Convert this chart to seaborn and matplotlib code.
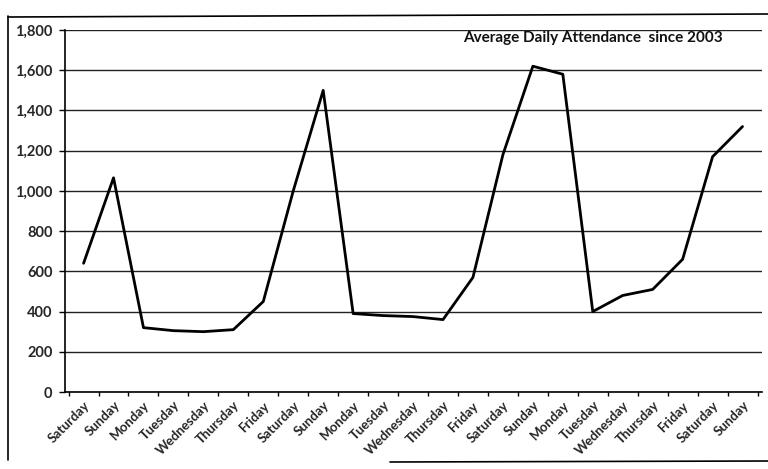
import matplotlib
matplotlib.use("Agg")
import matplotlib.pyplot as plt
from matplotlib.lines import Line2D
from matplotlib.ticker import FuncFormatter, MultipleLocator
import pandas as pd
import seaborn as sns

sns.set_theme(style="white")
plt.rcParams["font.family"] = ["Lato", "DejaVu Sans"]

days = [
    "Saturday", "Sunday", "Monday", "Tuesday", "Wednesday", "Thursday", "Friday",
    "Saturday", "Sunday", "Monday", "Tuesday", "Wednesday", "Thursday", "Friday",
    "Saturday", "Sunday", "Monday", "Tuesday", "Wednesday", "Thursday", "Friday",
    "Saturday", "Sunday",
]
attendance = [
    640, 1065, 320, 305, 300, 310, 450,
    1000, 1500, 390, 380, 375, 360, 570,
    1180, 1620, 1580, 400, 480, 510, 660,
    1170, 1320,
]
title = "Average Daily Attendance  since 2003"

data = pd.DataFrame({"pos": range(len(days)), "day": days, "attendance": attendance})

fig = plt.figure(figsize=(7.68, 4.69), dpi=100)
ax = fig.add_axes([65 / 768, 1 - 392 / 469, 697 / 768, 362 / 469])

sns.lineplot(data=data, x="pos", y="attendance", color="black", linewidth=2.0, ax=ax)

ax.set_ylim(0, 1800)
ax.set_xlim(-0.62, len(days) - 0.35)
ax.yaxis.set_major_locator(MultipleLocator(200))
ax.yaxis.set_major_formatter(FuncFormatter(lambda v, p: f"{int(v):,}"))
ax.grid(axis="y", color="#222222", linewidth=1.0)
ax.set_axisbelow(True)

ax.set_xticks(data["pos"])
ax.set_xticklabels(days, rotation=45, ha="right", rotation_mode="anchor",
                   fontsize=9.5, fontweight="bold")
ax.set_xticks([p - 0.5 for p in data["pos"]] + [len(days) - 0.5], minor=True)
ax.tick_params(axis="x", which="major", length=0, pad=5)
ax.tick_params(axis="x", which="minor", length=3, width=1, color="black", direction="out", bottom=True)
ax.tick_params(axis="y", length=4, width=1, color="black", direction="out", left=True,
               labelsize=10.5, pad=5)
for lab in ax.get_yticklabels():
    lab.set_fontweight("bold")

for side in ["top", "right"]:
    ax.spines[side].set_visible(False)
for side in ["left", "bottom"]:
    ax.spines[side].set_color("black")
    ax.spines[side].set_linewidth(1.2)

ax.set_xlabel("")
ax.set_ylabel("")
ax.text(0.943, 0.997, title, transform=ax.transAxes, ha="right", va="top",
        fontsize=11, fontweight="bold", color="#111111")

# outer chart border
fig.add_artist(Line2D([8 / 768, 8 / 768], [1 - 460 / 469, 1 - 16 / 469],
                      transform=fig.transFigure, color="black", linewidth=1.2))
fig.add_artist(Line2D([8 / 768, 1.0], [1 - 17 / 469, 1 - 14 / 469],
                      transform=fig.transFigure, color="black", linewidth=1.2))
fig.add_artist(Line2D([390 / 768, 1.0], [1 - 462 / 469, 1 - 461 / 469],
                      transform=fig.transFigure, color="black", linewidth=1.2))

fig.savefig("out.png", dpi=100, facecolor="white")
